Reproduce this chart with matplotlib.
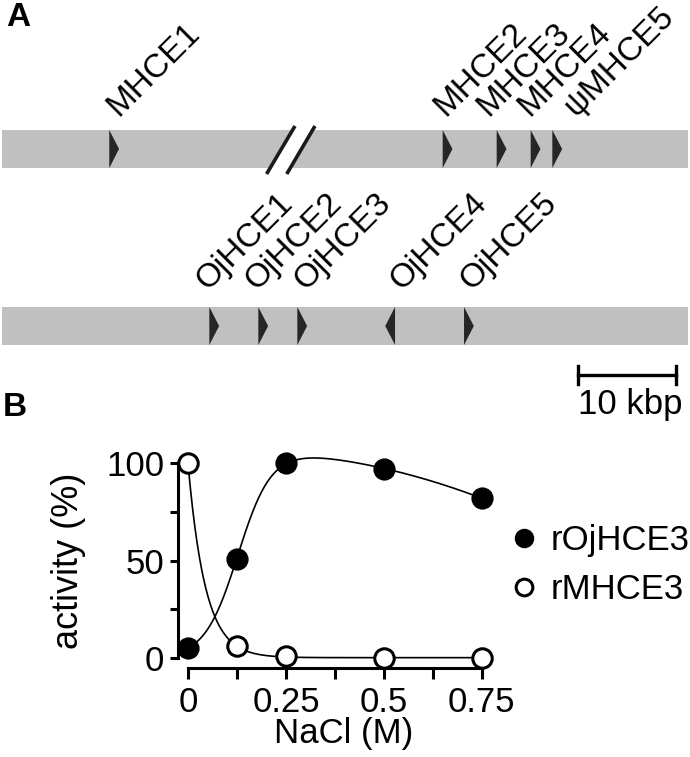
import matplotlib
matplotlib.use('Agg')
import matplotlib.pyplot as plt
import numpy as np
from matplotlib.patches import Rectangle, Polygon
from matplotlib.lines import Line2D

plt.rcParams['font.family'] = ['Liberation Sans', 'DejaVu Sans']

# panel A: gene positions along each locus (kbp), arrows point along strand
top_genes = ['MHCE1', 'MHCE2', 'MHCE3', 'MHCE4', 'ψMHCE5']
top_pos = [11.15, 45.17, 50.68, 54.15, 56.36]
top_label_x = [12.05, 45.4, 49.8, 54.0, 58.8]
bottom_genes = ['OjHCE1', 'OjHCE2', 'OjHCE3', 'OjHCE4', 'OjHCE5']
bottom_pos = [21.36, 26.36, 30.34, 40.31, 47.35]
bottom_strand = [1, 1, 1, -1, 1]
bottom_label_x = [21.2, 26.2, 31.2, 41.0, 48.1]
locus_len = 70.0
scale_kbp = 10

# panel B: relative activity vs NaCl
nacl = [0, 0.125, 0.25, 0.5, 0.75]
act_oj = [5, 51, 100, 97, 82]
act_m = [100, 6, 1, 0, 0]


def rise_fall_fit(x, y, xs):
    # logistic rise minus a power-law fall, grid search on the shape terms
    x = np.asarray(x, float)
    y = np.asarray(y, float)
    best = None
    for x0 in np.linspace(0.08, 0.17, 31):
        for s in np.linspace(0.01, 0.08, 29):
            for p in np.linspace(1.5, 8, 27):
                X = np.column_stack([1 / (1 + np.exp(-(x - x0) / s)), -x**p])
                coef, *_ = np.linalg.lstsq(X, y, rcond=None)
                err = np.sum((X @ coef - y) ** 2)
                if best is None or err < best[0]:
                    best = (err, x0, s, p, coef)
    _, x0, s, p, (T, D) = best
    return T / (1 + np.exp(-(xs - x0) / s)) - D * xs**p


def decay_fit(x, y, xs):
    x = np.asarray(x, float)
    y = np.asarray(y, float)
    best = None
    for k in np.linspace(1, 100, 2000):
        X = np.column_stack([np.exp(-k * x), np.ones_like(x)])
        coef, *_ = np.linalg.lstsq(X, y, rcond=None)
        err = np.sum((X @ coef - y) ** 2)
        if best is None or err < best[0]:
            best = (err, k, coef)
    _, k, (a, c) = best
    return a * np.exp(-k * xs) + c


W, H = 690, 757
fig = plt.figure(figsize=(W / 100, H / 100), dpi=100)

# ---------------- panel A ----------------
px_per_kbp = 9.8
axa = fig.add_axes([0, 1 - 420 / H, 1, 420 / H])
axa.set_xlim(0, W / px_per_kbp)
axa.set_ylim(420, 0)
axa.axis('off')

bar_x0 = 0.2
bar_col = '#c0c0c0'
arrow_col = '#262626'
arrow_w = 1.0


def draw_track(y0, y1, genes, pos, strand, label_x, label_gap):
    axa.add_patch(Rectangle((bar_x0, y0), locus_len, y1 - y0, color=bar_col, lw=0))
    ym = (y0 + y1) / 2
    for g, p, s, lx in zip(genes, pos, strand, label_x):
        axa.add_patch(Polygon([(p, y0), (p, y1), (p + s * arrow_w, ym)],
                              closed=True, color=arrow_col, lw=0))
        axa.text(lx, y0 - label_gap, g, rotation=45, rotation_mode='anchor',
                 ha='left', va='baseline', fontsize=24)


draw_track(130, 168, top_genes, top_pos, [1] * len(top_pos), top_label_x, 13)
draw_track(307, 345, bottom_genes, bottom_pos, bottom_strand, bottom_label_x, 16)

# break marks on the upper locus
b1 = [(27.2, 174), (30.1, 126)]
b2 = [(29.26, 174), (32.14, 126)]
axa.add_patch(Polygon([b1[0], b1[1], b2[1], b2[0]], closed=True, color='white', lw=0))
for b in (b1, b2):
    axa.plot([b[0][0], b[1][0]], [b[0][1], b[1][1]], color='#1a1a1a', lw=2.6,
             solid_capstyle='butt')

# scale bar
sb_x = 59.0
axa.plot([sb_x, sb_x + scale_kbp], [375, 375], color='k', lw=2.4)
for xx in (sb_x, sb_x + scale_kbp):
    axa.plot([xx, xx], [366, 384], color='k', lw=2.4)
axa.text(sb_x + scale_kbp / 2 + 0.3, 388, f'{scale_kbp} kbp', ha='center', va='top',
         fontsize=25)

fig.text(6 / W, 1 - 2 / H, 'A', fontsize=24, fontweight='bold', va='top', ha='left')
fig.text(3 / W, 1 - 392 / H, 'B', fontsize=24, fontweight='bold', va='top', ha='left')

# ---------------- panel B ----------------
ax = fig.add_axes([178 / W, 89 / H, 315.6 / W, 214.7 / H])
xs = np.linspace(0, 0.75, 400)
ax.plot(xs, rise_fall_fit(nacl, act_oj, xs), color='k', lw=1.2, zorder=2)
ax.plot(xs, decay_fit(nacl, act_m, xs), color='k', lw=1.2, zorder=2)
ax.plot(nacl, act_oj, 'o', ms=14, mfc='k', mec='k', mew=2, clip_on=False, zorder=3)
ax.plot(nacl, act_m, 'o', ms=14, mfc='white', mec='k', mew=2.2, clip_on=False, zorder=4)

ax.set_xlim(-0.0255, 0.78)
ax.set_ylim(-5.1, 105)
for s in ('top', 'right'):
    ax.spines[s].set_visible(False)
ax.spines['left'].set_bounds(0, 100)
ax.spines['bottom'].set_bounds(0, 0.75)
for s in ('left', 'bottom'):
    ax.spines[s].set_linewidth(2.2)

ax.set_xticks([0, 0.125, 0.25, 0.375, 0.5, 0.625, 0.75])
ax.set_xticklabels(['0', '', '0.25', '', '0.5', '', '0.75'])
ax.set_yticks([0, 25, 50, 75, 100])
ax.set_yticklabels(['0', '', '50', '', '100'])
ax.tick_params(axis='x', width=2.2, length=8, labelsize=25, pad=5)
ax.tick_params(axis='y', width=2.2, length=6, labelsize=25, pad=4)

ax.set_ylabel('activity (%)', fontsize=26)
ax.yaxis.set_label_coords(-0.29, 0.5)
ax.set_xlabel('NaCl (M)', fontsize=25)
ax.xaxis.set_label_coords((344 - 178) / 315.6, (668 - 717) / 214.7)

handles = [Line2D([], [], marker='o', ls='none', ms=12, mfc='k', mec='k', mew=2),
           Line2D([], [], marker='o', ls='none', ms=12, mfc='white', mec='k', mew=2.2)]
fig.legend(handles, ['rOjHCE3', 'rMHCE3'], loc='center left',
           bbox_to_anchor=(507 / W, (H - 565) / H), frameon=False, fontsize=25,
           handlelength=1.0, handletextpad=0.25, labelspacing=0.45,
           borderpad=0, borderaxespad=0)

fig.savefig('out.png', dpi=100)
